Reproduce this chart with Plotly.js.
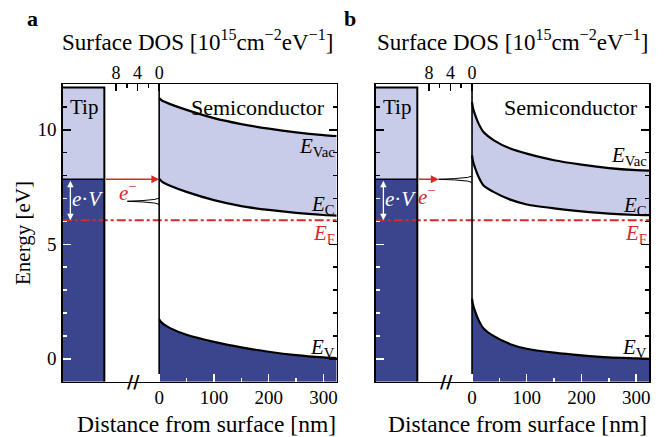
<!DOCTYPE html>
<html><head><meta charset="utf-8">
<script src="https://cdn.plot.ly/plotly-3.0.1.min.js"></script>
<style>html,body{margin:0;padding:0;background:#fff}#chart{width:665px;height:437px}</style>
</head><body><div id="chart"></div>
<script>
// ---------- data ----------
// panel a: band edges vs distance from surface [nm], energies [eV]
const distA = [0, 5, 10, 20, 50, 100, 150, 200, 250, 300, 324];
const evacA = [11.38, 11.28, 11.22, 11.12, 10.87, 10.51, 10.25, 10.05, 9.89, 9.77, 9.73];
const ecA   = [7.86, 7.74, 7.67, 7.56, 7.29, 6.93, 6.67, 6.50, 6.37, 6.28, 6.25];
const evA   = [1.72, 1.57, 1.48, 1.34, 1.05, 0.74, 0.50, 0.31, 0.16, 0.06, 0.03];
// panel b
const distB = [0, 2, 6, 12, 21, 40, 70, 100, 150, 200, 250, 300, 324];
const evacB = [11.21, 10.93, 10.63, 10.27, 9.90, 9.54, 9.18, 8.96, 8.67, 8.48, 8.33, 8.24, 8.22];
const ecB   = [8.88, 8.60, 8.30, 7.94, 7.57, 7.28, 6.95, 6.74, 6.57, 6.44, 6.34, 6.28, 6.27];
const evB   = [2.63, 2.35, 2.05, 1.69, 1.33, 0.99, 0.64, 0.44, 0.27, 0.15, 0.06, 0.02, 0.00];
// surface density of states peaks (energy [eV], DOS [1e15 cm^-2 eV^-1])
const dosEnergyA = [6.74, 6.80, 6.85, 6.88, 6.91, 6.96, 7.02];
const dosValueA  = [0, 0.8, 3.0, 5.9, 3.0, 0.8, 0];
const dosEnergyB = [7.70, 7.76, 7.81, 7.84, 7.87, 7.92, 7.98];
const dosValueB  = [0, 0.8, 3.2, 6.2, 3.2, 0.8, 0];
// levels
const tipEdge = -100, tipTop = 11.85, tipFermi = 7.84, sampleEF = 6.05, surfaceX = 0;
const evArrowX = -162;
// axes / ticks
const xRange = [-176, 324], yRange = [-1, 12];
const xTickVals = [0, 100, 200, 300], xMinorVals = [50, 150, 250];
const yTickVals = [0, 5, 10], yMinorVals = [1, 2, 3, 4, 6, 7, 8, 9, 11];
const dosTickVals = [0, 4, 8], dosMinorVals = [2, 6];
const nmPerDos = 9.85;

// ---------- style ----------
const FONT = 'Liberation Serif, Times New Roman, serif';
const NAVY = '#3b458e', LAV = '#c8cce9', RED = '#d42a2a';

const panels = [
  {ids:{x:'x',xd:'x2',y:'y',yw:'y2',yk:'y3',yr:'y4'}, dom:[0.0943,0.5063],
   dist:distA, evac:evacA, ec:ecA, ev:evA, dosE:dosEnergyA, dosV:dosValueA,
   arrowToDos:false, letter:'a', showY:true, letterX:32, dosTitleX:197, xTitleX:206,
   eMinusX:-57, eMinusY:7.3, vacY:9.27, cY:6.72},
  {ids:{x:'x3',xd:'x4',y:'y5',yw:'y6',yk:'y7',yr:'y8'}, dom:[0.5650,0.9764],
   dist:distB, evac:evacB, ec:ecB, ev:evB, dosE:dosEnergyB, dosV:dosValueB,
   arrowToDos:true, letter:'b', showY:false, letterX:350, dosTitleX:512, xTitleX:517,
   eMinusX:-82, eMinusY:7.15, vacY:8.86, cY:6.68}
];

const ydom = [0.1265, 0.8078];
const traces = [];
const layout = {
  width:665, height:437, margin:{l:0,r:0,t:0,b:0},
  paper_bgcolor:'white', plot_bgcolor:'white', showlegend:false,
  font:{family:FONT, color:'black', size:19}, annotations:[]
};
const key = id => (id[0]==='x' ? 'xaxis' : 'yaxis') + id.slice(1);
const W = 665, H = 437;

panels.forEach(p => {
  const I = p.ids;
  const baseLine = {color:'black', width:2.2, shape:'spline', smoothing:0.7};
  // tip
  traces.push({x:[xRange[0], tipEdge, tipEdge, xRange[0]], y:[yRange[0], yRange[0], tipFermi, tipFermi],
    xaxis:I.x, yaxis:I.y, mode:'lines', fill:'toself', fillcolor:NAVY, line:{width:0}, hoverinfo:'skip'});
  traces.push({x:[xRange[0], tipEdge, tipEdge, xRange[0]], y:[tipFermi, tipFermi, tipTop, tipTop],
    xaxis:I.x, yaxis:I.y, mode:'lines', fill:'toself', fillcolor:LAV, line:{width:0}, hoverinfo:'skip'});
  // semiconductor bands
  traces.push({x:p.dist, y:p.dist.map(() => yRange[0]), xaxis:I.x, yaxis:I.y, mode:'lines', line:{width:0}, hoverinfo:'skip'});
  traces.push({x:p.dist, y:p.ev, xaxis:I.x, yaxis:I.y, mode:'lines', fill:'tonexty', fillcolor:NAVY, line:baseLine});
  traces.push({x:p.dist, y:p.ec, xaxis:I.x, yaxis:I.y, mode:'lines', line:baseLine});
  traces.push({x:p.dist, y:p.evac, xaxis:I.x, yaxis:I.y, mode:'lines', fill:'tonexty', fillcolor:LAV, line:baseLine});
  // Fermi level of sample
  traces.push({x:xRange, y:[sampleEF, sampleEF], xaxis:I.x, yaxis:I.yw, mode:'lines',
    line:{color:RED, width:2, dash:'dashdot'}});
  // tip outline
  traces.push({x:[xRange[0], tipEdge, tipEdge], y:[tipTop, tipTop, yRange[0]], xaxis:I.x, yaxis:I.yk,
    mode:'lines', line:{color:'black', width:2}});
  traces.push({x:[xRange[0], tipEdge], y:[tipFermi, tipFermi], xaxis:I.x, yaxis:I.yk,
    mode:'lines', line:{color:'black', width:1.6}});
  // surface
  traces.push({x:[surfaceX, surfaceX], y:yRange, xaxis:I.x, yaxis:I.yr, mode:'lines', line:{color:'black', width:1.6}});
  // surface DOS
  traces.push({x:p.dosV, y:p.dosE, xaxis:I.xd, yaxis:I.y, mode:'lines', line:{color:'black', width:1}});

  // axes
  const tickfont = {family:FONT, size:19, color:'black'};
  layout[key(I.x)] = {domain:p.dom, range:xRange, anchor:I.y, tickmode:'array', tickvals:xTickVals,
    ticks:'inside', ticklen:8, tickwidth:1.5, tickcolor:'white', ticklabelstandoff:-2,
    minor:{tickmode:'array', tickvals:xMinorVals, ticks:'inside', ticklen:4, tickwidth:1.5, tickcolor:'white'},
    showline:true, mirror:true, linecolor:'black', linewidth:1.3, showgrid:false, zeroline:false, tickfont};
  layout[key(I.xd)] = {overlaying:I.x, anchor:I.y, side:'top', range:[-xRange[0]/nmPerDos, -xRange[1]/nmPerDos],
    tickmode:'array', tickvals:dosTickVals, ticks:'inside', ticklen:7, tickwidth:1.5, tickcolor:'black',
    minor:{tickmode:'array', tickvals:dosMinorVals, ticks:'inside', ticklen:4, tickwidth:1.5, tickcolor:'black'},
    showline:false, showgrid:false, zeroline:false, tickfont:{family:FONT, size:18, color:'black'}};
  layout[key(I.y)] = {domain:ydom, range:yRange, anchor:I.x, tickmode:'array', tickvals:yTickVals,
    ticks:'', showticklabels:p.showY, ticklabelstandoff:1,
    showline:true, mirror:true, linecolor:'black', linewidth:1.3, showgrid:false, zeroline:false, tickfont};
  const low = yTickVals.filter(v => v < tipFermi), high = yTickVals.filter(v => v >= tipFermi);
  const lowM = yMinorVals.filter(v => v < tipFermi), highM = yMinorVals.filter(v => v >= tipFermi);
  const tickAxis = (vals, minor, color, side) => ({overlaying:I.y, anchor:I.x, side, range:yRange,
    tickmode:'array', tickvals:vals, ticks:'inside', ticklen:8, tickwidth:1.5, tickcolor:color,
    minor:{tickmode:'array', tickvals:minor, ticks:'inside', ticklen:4, tickwidth:1.5, tickcolor:color},
    showticklabels:false, showline:false, showgrid:false, zeroline:false});
  layout[key(I.yw)] = tickAxis(low, lowM, 'white', 'left');
  layout[key(I.yk)] = tickAxis(high, highM, 'black', 'left');
  layout[key(I.yr)] = tickAxis(yTickVals, yMinorVals, 'black', 'right');

  // annotations
  const A = layout.annotations;
  const ann = (o) => A.push(Object.assign({xref:I.x, yref:I.y, showarrow:false, xanchor:'center', yanchor:'middle',
    font:{family:FONT, size:21, color:'black'}}, o));
  ann({x:(xRange[0]+tipEdge)/2, y:11.0, text:'Tip'});
  ann({x:181, y:10.97, text:'Semiconductor', font:{family:FONT, size:22, color:'black'}});
  ann({x:xRange[1], y:p.vacY, xanchor:'right', text:'<i>E</i><sub>Vac</sub>'});
  ann({x:xRange[1], y:p.cY, xanchor:'right', text:'<i>E</i><sub>C</sub>'});
  ann({x:xRange[1], y:5.44, xanchor:'right', text:'<i>E</i><sub>F</sub>', font:{family:FONT, size:21, color:RED}});
  ann({x:xRange[1], y:0.49, xanchor:'right', text:'<i>E</i><sub>V</sub>'});
  ann({x:p.eMinusX, y:p.eMinusY, text:'<i>e</i><sup>−</sup>', font:{family:FONT, size:21, color:RED}});
  ann({x:-131, y:7.0, text:'<i>e</i>·<i>V</i>', font:{family:FONT, size:21, color:'white'}});
  // electron arrow
  const head = p.arrowToDos ? -Math.max(...p.dosV) * nmPerDos : surfaceX;
  A.push({xref:I.x, yref:I.y, axref:I.x, ayref:I.y, x:head, y:tipFermi, ax:tipEdge, ay:tipFermi, text:'',
    showarrow:true, arrowhead:2, arrowsize:1.2, arrowwidth:1.3, arrowcolor:RED, standoff:0});
  // e·V arrow
  A.push({xref:I.x, yref:I.y, axref:I.x, ayref:I.y, x:evArrowX, y:sampleEF, ax:evArrowX, ay:tipFermi, text:'',
    showarrow:true, arrowhead:2, arrowside:'end+start', arrowsize:1, arrowwidth:1.3, arrowcolor:'white', standoff:0, startstandoff:0});
  // axis break
  A.push({xref:I.x, yref:'paper', x:-47, y:ydom[0], xanchor:'center', yanchor:'middle', text:'<b>//</b>', showarrow:false,
    font:{family:'DejaVu Sans', size:17, color:'black'}});
  // paper labels
  const pa = (o) => A.push(Object.assign({xref:'paper', yref:'paper', showarrow:false, xanchor:'center', yanchor:'middle'}, o));
  pa({x:p.letterX/W, y:1-19/H, text:'<b>'+p.letter+'</b>', font:{family:FONT, size:22}});
  pa({x:p.dosTitleX/W, y:1-40/H, text:'Surface DOS [10<sup>15</sup>cm<sup>−2</sup>eV<sup>−1</sup>]', font:{family:FONT, size:23}});
  pa({x:p.xTitleX/W, y:1-424/H, text:'Distance from surface [nm]', font:{family:FONT, size:23.5}});
  if (p.showY) pa({x:23/W, y:1-233/H, text:'Energy [eV]', textangle:-90, font:{family:FONT, size:21}});
});

Plotly.newPlot('chart', traces, layout, {staticPlot:true, displayModeBar:false});
</script></body></html>
